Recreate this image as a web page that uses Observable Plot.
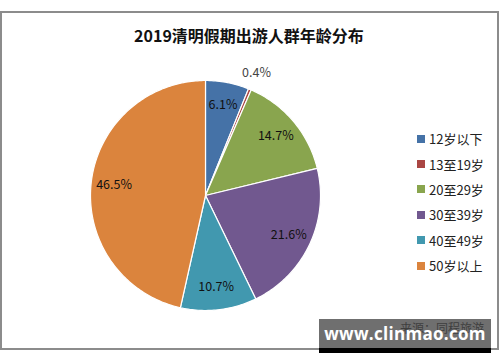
<!DOCTYPE html>
<html><head><meta charset="utf-8">
<script src="https://cdn.jsdelivr.net/npm/d3@7"></script>
<script src="https://cdn.jsdelivr.net/npm/@observablehq/plot@0.6"></script>
<style>
html,body{margin:0;padding:0;background:#fff;width:500px;height:362px;overflow:hidden;font-family:"Noto Sans CJK SC","Noto Sans",sans-serif;}
#wrap{position:absolute;left:0;top:0;width:500px;height:362px;}
#frame{position:absolute;left:0;top:11px;width:495px;height:335px;border:2px solid #8c8c8c;}
#title{position:absolute;left:0;top:24px;width:498px;text-align:center;font-size:16px;font-weight:bold;color:#111;line-height:22px;}
#chart{position:absolute;left:0;top:0;}
#legend{position:absolute;left:417px;top:126px;}
.item{height:25.4px;display:flex;align-items:center;font-size:13px;color:#222;}
.sw{width:8px;height:8px;margin-right:4px;}
#source{position:absolute;left:400px;top:319px;font-size:12px;color:#222;}
#wm{position:absolute;left:319px;top:319px;width:172px;height:29px;background:rgba(70,70,70,0.78);border-bottom:5px solid #000;color:#fff;font-family:"Open Sans",sans-serif;font-weight:bold;font-size:17px;letter-spacing:0.3px;line-height:29px;text-align:center;white-space:nowrap;overflow:hidden;}
</style></head>
<body>
<div id="wrap">
<div id="frame"></div>
<div id="title">2019清明假期出游人群年龄分布</div>
<div id="chart"></div>
<div id="legend"></div>
<div id="source">来源：同程旅游</div>
<div id="wm">www.clinmao.com</div>
</div>
<script>
const categories = ["12岁以下", "13至19岁", "20至29岁", "30至39岁", "40至49岁", "50岁以上"];
const values = [6.1, 0.4, 14.7, 21.6, 10.7, 46.5];
const colors = ["#4572A7", "#AA4643", "#89A54E", "#71588F", "#4198AF", "#DB843D"];

const data = categories.map((c, i) => ({cat: c, value: values[i]}));
const arcs = d3.pie().sort(null).value(d => d.value).startAngle(0).endAngle(2 * Math.PI)(data);

// polygon points for each slice (in unit-circle data space)
const pts = [];
for (const a of arcs) {
  const cat = a.data.cat;
  pts.push({cat, x: 0, y: 0});
  const n = Math.max(2, Math.ceil((a.endAngle - a.startAngle) / (Math.PI / 180)));
  for (let k = 0; k <= n; k++) {
    const t = a.startAngle + (a.endAngle - a.startAngle) * k / n;
    pts.push({cat, x: Math.sin(t), y: Math.cos(t)});
  }
  pts.push({cat, x: 0, y: 0});
}
const labels = arcs.map(a => {
  const m = (a.startAngle + a.endAngle) / 2;
  const r = a.data.value < 1 ? 1.15 : 0.8;
  return {x: r * Math.sin(m), y: r * Math.cos(m), text: a.data.value.toFixed(1) + "%", outside: a.data.value < 1};
});

const chart = Plot.plot({
  width: 500, height: 362,
  marginLeft: 90, marginRight: 180, marginTop: 80, marginBottom: 52,
  x: {domain: [-1, 1], axis: null},
  y: {domain: [-1, 1], axis: null},
  color: {domain: categories, range: colors},
  style: {background: "transparent", fontFamily: "'Noto Sans CJK SC', sans-serif"},
  marks: [
    Plot.line(pts, {x: "x", y: "y", z: "cat", fill: "cat", stroke: "white", strokeWidth: 1.2, strokeLinejoin: "round"}),
    Plot.text(labels, {x: "x", y: "y", text: "text", fontSize: 12.5, fill: d => d.outside ? "#444" : "#111"})
  ]
});
document.getElementById("chart").appendChild(chart);

const lg = document.getElementById("legend");
categories.forEach((c, i) => {
  const it = document.createElement("div");
  it.className = "item";
  const sw = document.createElement("span");
  sw.className = "sw"; sw.style.background = colors[i];
  const tx = document.createElement("span");
  tx.textContent = c;
  it.appendChild(sw); it.appendChild(tx);
  lg.appendChild(it);
});
</script>
</body></html>
